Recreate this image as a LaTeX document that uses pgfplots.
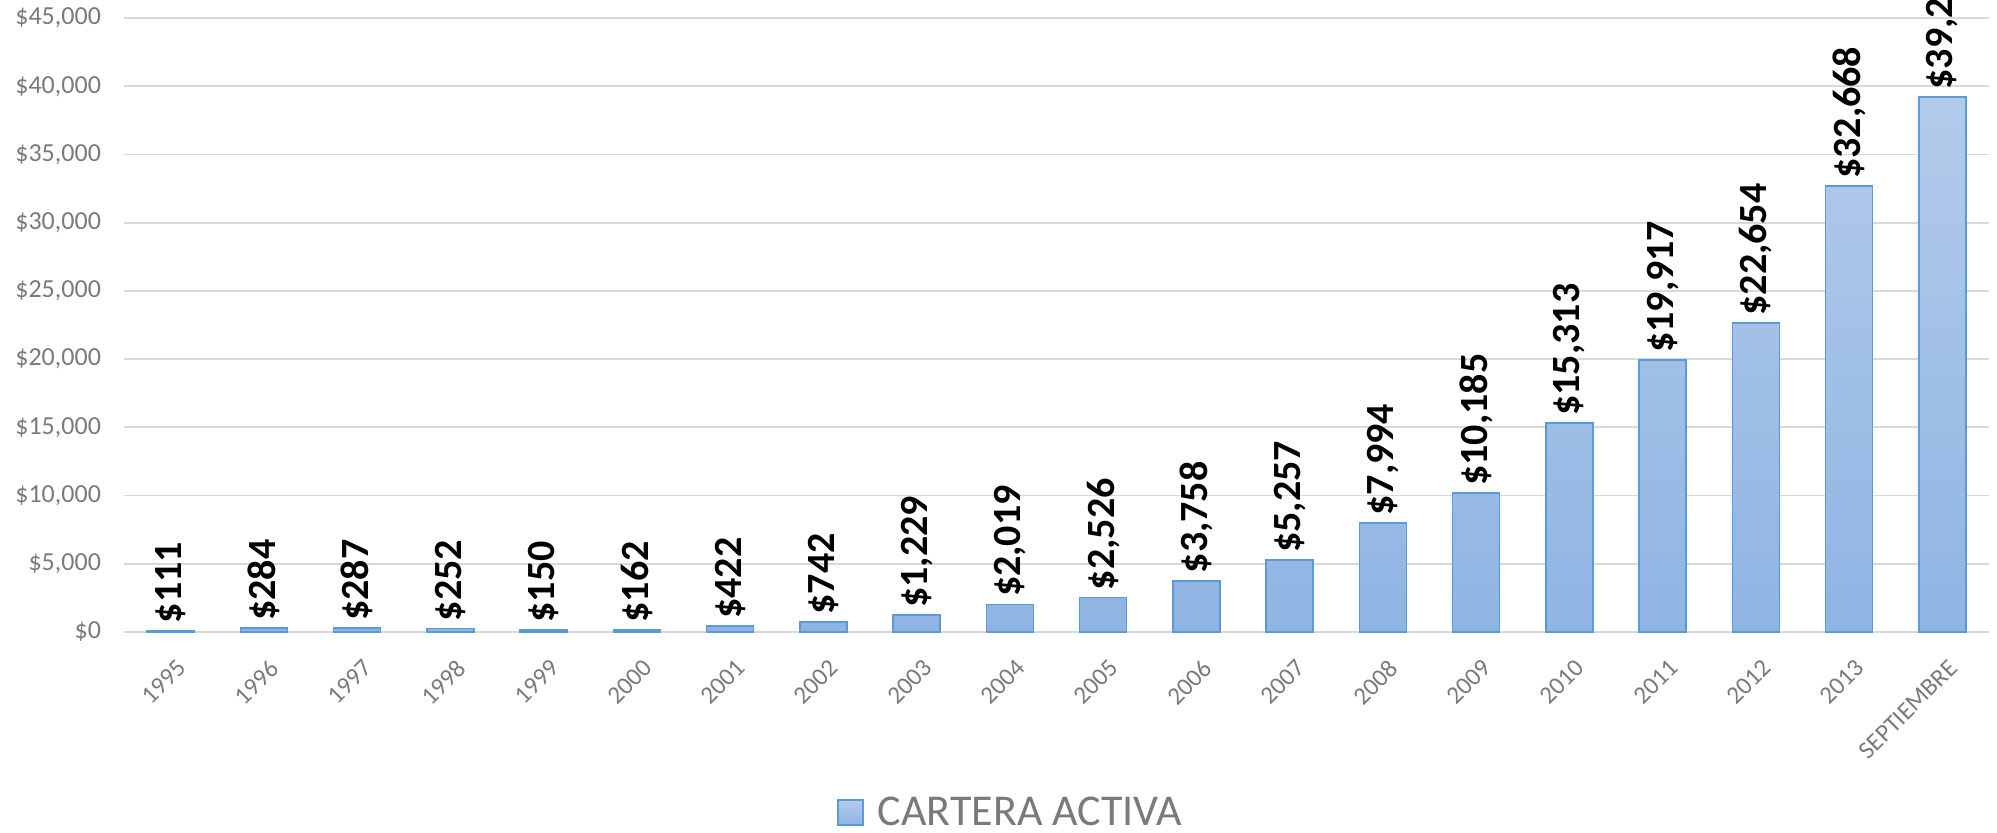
\documentclass[border=0pt]{standalone}
\usepackage{pgfplots}
\pgfplotsset{compat=1.18}
\usepackage{fontspec}
\setmainfont{Carlito}
\definecolor{tickgray}{HTML}{7A7A7A}
\definecolor{gridgray}{HTML}{D9D9D9}
\definecolor{barborder}{HTML}{5B9BD5}
\definecolor{bartop}{HTML}{B3CBEB}
\definecolor{barbot}{HTML}{8FB4E3}
\begin{document}
\begin{tikzpicture}
\begin{axis}[
  at={(0,0)}, anchor=south west,
  scale only axis, width=932.5pt, height=307pt,
  xmin=-0.5, xmax=19.5, ymin=0, ymax=45000,
  xtick={0,...,19},
  xticklabels={1995,1996,1997,1998,1999,2000,2001,2002,2003,2004,2005,2006,2007,2008,2009,2010,2011,2012,2013,SEPTIEMBRE},
  ytick={0,5000,...,45000},
  scaled y ticks=false,
  yticklabel={\$\pgfmathprintnumber[fixed, precision=0, 1000 sep={,}, assume math mode=true]{\tick}},
  ymajorgrids, grid style={gridgray, line width=0.9pt},
  axis line style={draw=none},
  major tick length=0pt,
  y tick label style={font=\fontsize{13}{15}\selectfont, text=tickgray, xshift=-8pt},
  x tick label style={xshift=5.5pt, yshift=-16pt, rotate=45, anchor=east, font=\fontsize{12.5}{14}\selectfont, text=tickgray, inner sep=0pt},
  legend style={at={(0.476,-0.295)}, anchor=center, draw=none, font=\fontsize{22}{26}\selectfont, text=tickgray},
  legend image code/.code={\draw[barborder, top color=bartop, bottom color=barbot, line width=0.8pt] (0pt,-6pt) rectangle (12.5pt,6.5pt);},
  legend style={/tikz/every even column/.append style={column sep=0pt}, /tikz/every odd column/.append style={column sep=5pt}},
]
\addplot[ybar, bar width=23.5pt, draw=barborder, line width=0.8pt, top color=bartop, bottom color=barbot,
  nodes near coords={\$\pgfmathprintnumber[fixed, precision=0, 1000 sep={,}, assume math mode=true]{\pgfplotspointmeta}},
  every node near coord/.append style={rotate=90, anchor=west, font=\bfseries\fontsize{20}{24}\selectfont, text=black}]
coordinates {
(0,111) (1,284) (2,287) (3,252) (4,150) (5,162) (6,422) (7,742) (8,1229) (9,2019)
(10,2526) (11,3758) (12,5257) (13,7994) (14,10185) (15,15313) (16,19917) (17,22654) (18,32668) (19,39220)
};
\addlegendentry{CARTERA ACTIVA}
\end{axis}
\pgfresetboundingbox
\path[use as bounding box] (-62pt,-100pt) rectangle (936.5pt,316pt);
\end{tikzpicture}
\end{document}
